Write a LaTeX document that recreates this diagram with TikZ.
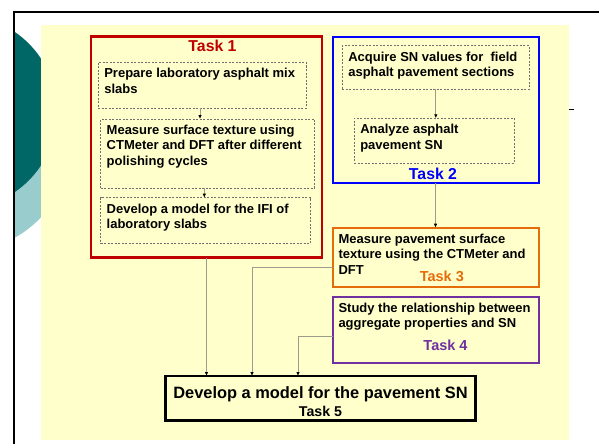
\documentclass[tikz,border=0pt]{standalone}
\usepackage{fontspec}
\setmainfont{Liberation Sans}
\usetikzlibrary{arrows.meta}
\definecolor{slideyellow}{HTML}{FFFFCC}
\definecolor{tealdark}{HTML}{006666}
\definecolor{tealpale}{HTML}{99CCCC}
\definecolor{taskred}{HTML}{C00000}
\definecolor{taskblue}{HTML}{0000FF}
\definecolor{taskorange}{HTML}{E46C0A}
\definecolor{taskpurple}{HTML}{7030A0}
\definecolor{stepgray}{HTML}{707070}
\definecolor{linkgray}{HTML}{9C9C8C}
\newcommand{\stepfont}{\bfseries\fontsize{13}{15.5}\selectfont}
\newcommand{\StepBox}[6][stepbox]{\node[#1] (#2) at (#3) {\parbox[c][\dimexpr#5pt-12pt\relax][t]{\dimexpr#4pt-12pt\relax}{#6}};}
\tikzset{
  stepbox/.style={draw=stepgray, dash pattern=on 2pt off 1.5pt, line width=0.6pt, anchor=north west, inner sep=6pt, outer sep=0pt, font=\stepfont},
  taskframe/.style={solid, line width=2pt, anchor=north west, inner sep=6pt, outer sep=0pt, font=\stepfont},
  tasktitle/.style={inner sep=0pt, font=\bfseries\fontsize{15.8}{18}\selectfont},
  link/.style={draw=linkgray, line width=0.8pt, -{Latex[length=4pt,width=3.5pt,color=black]}}
}

\begin{document}
\begin{tikzpicture}[x=1pt,y=-1pt]
\useasboundingbox (0,0) rectangle (599,444);
\begin{scope}
  \clip (13.7,0) rectangle (60,444);
  \fill[tealpale] (-40,140) circle[radius=112pt];
  \fill[tealdark] (-40,112) circle[radius=97pt];
\end{scope}
\fill[slideyellow] (41,25) rectangle (569.3,440);
\draw[line width=2pt] (13.7,444) -- (13.7,11.9) -- (599,11.9);
\draw[line width=1pt] (569,109.3) -- (574,109.3);

% Task 1
\node[taskframe, draw=taskred, line width=2.5pt, minimum width=231pt, minimum height=221pt] (task1) at (91,36.5) {};
\node[tasktitle, text=taskred] (title1) at (212.5,45.7) {Task 1};
\StepBox{prep}{98.3,62.3}{207.7}{46}{Prepare laboratory asphalt mix\\slabs}
\StepBox{meas}{100.7,119}{213.6}{69.3}{Measure surface texture using\\CTMeter and DFT after different\\polishing cycles}
\StepBox{ifi}{100.7,197.7}{210}{45.6}{Develop a model for the IFI of\\laboratory slabs}

% Task 2
\node[taskframe, draw=taskblue, minimum width=206.2pt, minimum height=146.3pt] (task2) at (332.5,36.7) {};
\StepBox{acquire}{342.3,45.7}{187}{43.6}{Acquire SN values for\ \ field\\asphalt pavement sections}
\StepBox{analyze}{354.3,118.3}{160}{45}{Analyze asphalt\\pavement SN}
\node[tasktitle, text=taskblue] (title2) at (433,174) {Task 2};

% Tasks 3 and 4
\StepBox[taskframe, draw=taskorange]{task3}{332.5,227.7}{206}{59}{Measure pavement surface\\texture using the CTMeter and\\DFT}
\node[tasktitle, text=taskorange, font=\bfseries\fontsize{14.5}{17}\selectfont] (title3) at (441.8,276) {Task 3};
\StepBox[taskframe, draw=taskpurple]{task4}{332.5,296.7}{206}{66}{Study the relationship between\\aggregate properties and SN}
\node[tasktitle, text=taskpurple, font=\bfseries\fontsize{14.5}{17}\selectfont] (title4) at (445.5,345) {Task 4};

% Task 5
\node[taskframe, draw=black, line width=2.7pt, minimum width=310pt, minimum height=44.5pt] (task5) at (165.5,376) {};
\node[align=center, inner sep=0pt, font=\bfseries\fontsize{14.2}{18.5}\selectfont] (title5) at (320.5,401.7)
  {{\fontsize{16.4}{19}\selectfont Develop a model for the pavement SN}\\Task 5};

\draw[link] ([xshift=-2.15]prep.south) -- ([xshift=-7.5]meas.north);
\draw[link] ([xshift=-3.2]meas.south) -- ([xshift=-1.4]ifi.north);
\draw[link] (acquire.south) -- (acquire.south |- analyze.north);
\draw[link] (task2.south) -- (task3.north);
\draw[link] (task1.south) -- (task1.south |- task5.north);
\draw[link] ([yshift=-9.8]task3.west) -| ([xshift=-68.5]task5.north);
\draw[link] ([yshift=-6.3]task4.west) -| ([xshift=-22.5]task5.north);
\end{tikzpicture}
\end{document}
